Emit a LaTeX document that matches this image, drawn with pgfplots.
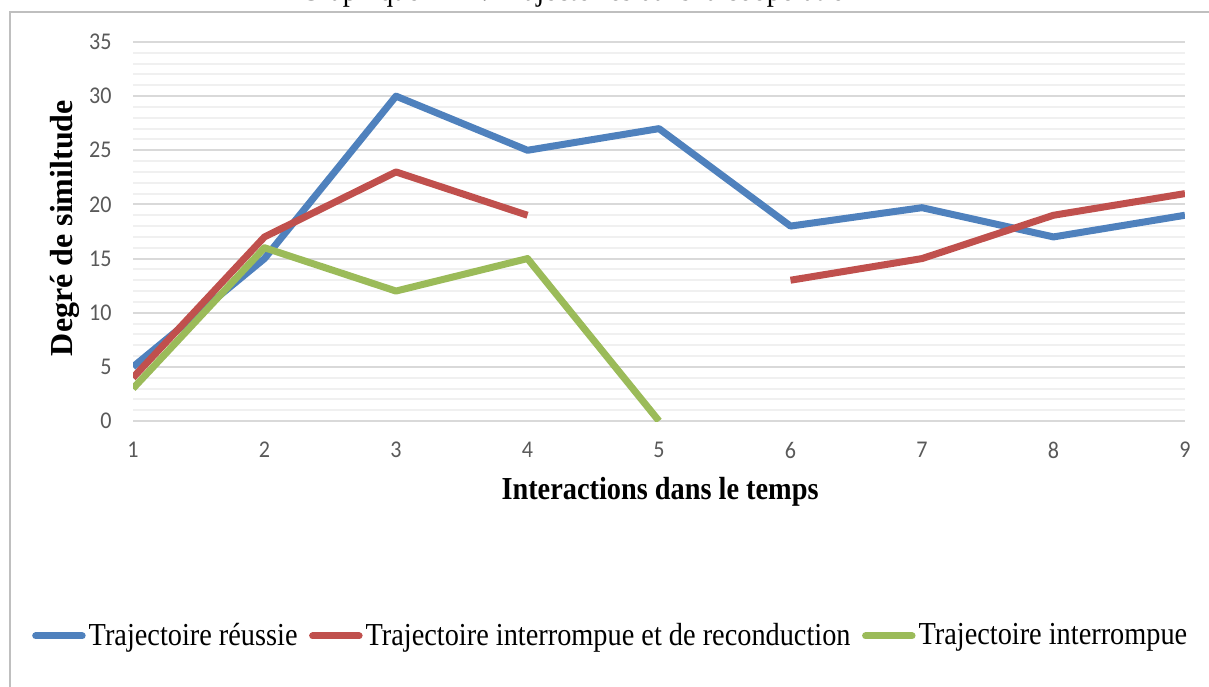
\documentclass[border=0pt]{standalone}
\usepackage{fontspec}
\setmainfont{Liberation Serif}[FakeStretch=0.885]
\newfontfamily\ylabfont{Liberation Serif}
\newfontfamily\tickfont{Carlito}[FakeStretch=0.92]
\usepackage{pgfplots}
\pgfplotsset{compat=1.18}
\definecolor{cblue}{HTML}{4F81BD}
\definecolor{cred}{HTML}{C0504D}
\definecolor{cgreen}{HTML}{9BBB59}
\definecolor{ticktext}{HTML}{595959}
\definecolor{majgrid}{HTML}{D9D9D9}
\definecolor{mingrid}{HTML}{F0F0F0}
\definecolor{framec}{HTML}{BFBFBF}
\begin{document}
\begin{tikzpicture}[x=0.5pt,y=0.5pt]
\useasboundingbox (0,0) rectangle (1209,686);
\clip (0,0) rectangle (1209,686);
\draw[framec, line width=0.75pt] (10,-10) -- (10,674) -- (1220,674);
\node[anchor=base west, inner sep=0pt, font=\fontsize{16}{19}\selectfont] at (300,685.5) {Graphique n° 4 : Trajectoires dans la coopération};
\begin{axis}[
  at={(66.5pt,132.5pt)}, anchor=south west,
  scale only axis, width=526pt, height=189.5pt,
  xmin=1, xmax=9, ymin=0, ymax=35,
  xtick={1,2,...,9}, ytick={0,5,...,35},
  minor y tick num=4,
  ymajorgrids, yminorgrids,
  major grid style={majgrid, line width=1pt},
  minor grid style={mingrid, line width=1pt},
  axis line style={draw=none},
  tick style={draw=none},
  /pgf/number format/assume math mode=true,
  ticklabel style={font=\tickfont\fontsize{12}{14}\selectfont, text=ticktext},
  yticklabel style={anchor=east, inner sep=0pt, xshift=-10.5pt},
  xticklabel style={anchor=north, inner sep=0pt, yshift=-10.5pt},
  xlabel={\textbf{Interactions dans le temps}},
  xlabel style={at={(rel axis cs:0.501,-0.187)}, anchor=center, font=\fontsize{16}{19}\selectfont},
  ylabel={\ylabfont\bfseries Degré de similtude},
  ylabel style={at={(rel axis cs:-0.0646,0.509)}, anchor=center, rotate=0, font=\fontsize{16}{19}\selectfont},
  unbounded coords=jump,
  legend columns=3,
  legend style={at={(rel axis cs:0.4515,-0.567)}, anchor=center, draw=none, fill=none,
    font=\fontsize{16}{19}\selectfont, inner sep=0pt, nodes={inner sep=0pt},
    /tikz/every even column/.append style={column sep=4pt}},
  legend cell align=left,
  legend image code/.code={\draw[#1, line cap=round] (1.75pt,0pt) -- (25pt,0pt); \path (0pt,0pt) (26.5pt,0pt);},
  every axis plot/.append style={line width=3.5pt, line join=round, no markers},
]
\addplot[cblue] coordinates {(1,5) (2,15) (3,30) (4,25) (5,27) (6,18) (7,19.7) (8,17) (9,19)};
\addlegendentry{Trajectoire réussie}
\addplot[cred] coordinates {(1,4) (2,17) (3,23) (4,19) (5,nan) (6,13) (7,15) (8,19) (9,21)};
\addlegendentry{Trajectoire interrompue et de reconduction}
\addplot[cgreen] coordinates {(1,3) (2,16) (3,12) (4,15) (5,0)};
\addlegendentry{Trajectoire interrompue}
\end{axis}
\end{tikzpicture}
\end{document}
